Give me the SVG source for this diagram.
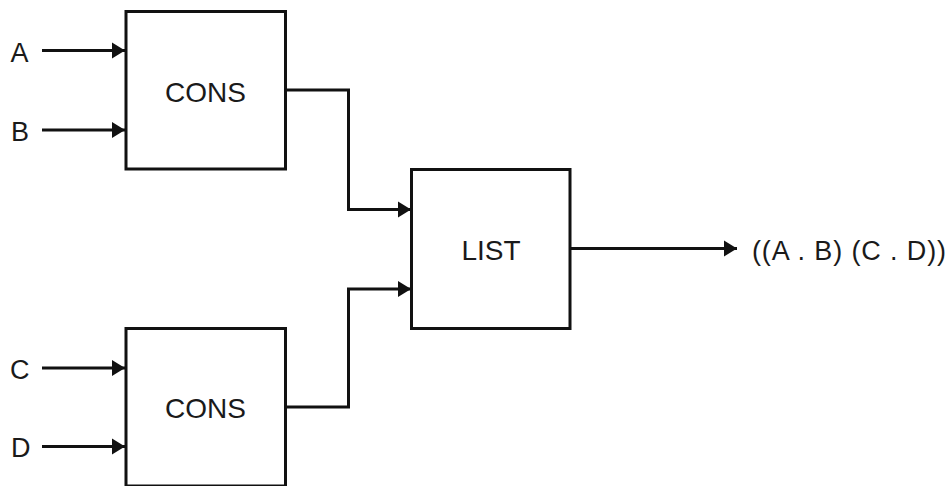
<svg xmlns="http://www.w3.org/2000/svg" width="952" height="486" viewBox="0 0 952 486">
<defs>
<style>
.box{fill:#fff;stroke:#111;stroke-width:3}
.wire{fill:none;stroke:#111;stroke-width:3}
.t{font-family:"Liberation Sans",Arial,sans-serif;fill:#1a1a1a}
.big{font-size:28px}
.lab{font-size:27px}
</style>
<marker id="ah" markerUnits="userSpaceOnUse" markerWidth="14" markerHeight="18" refX="13" refY="9" orient="auto">
<path d="M0,1 L13,9 L0,17 Z" fill="#111"/>
</marker>
</defs>
<rect width="952" height="486" fill="#fff"/>
<g id="connectors">
<line class="wire" x1="42" y1="50.5" x2="125" y2="50.5" marker-end="url(#ah)"/>
<line class="wire" x1="42" y1="130" x2="125" y2="130" marker-end="url(#ah)"/>
<line class="wire" x1="42" y1="368" x2="125" y2="368" marker-end="url(#ah)"/>
<line class="wire" x1="42" y1="446.5" x2="125" y2="446.5" marker-end="url(#ah)"/>
<polyline class="wire" points="286,90 348.5,90 348.5,209.5 411,209.5" marker-end="url(#ah)"/>
<polyline class="wire" points="286,407 348.5,407 348.5,289 411,289" marker-end="url(#ah)"/>
<line class="wire" x1="571" y1="248.5" x2="737" y2="248.5" marker-end="url(#ah)"/>
</g>
<g id="in-A"><text class="t lab" x="10.5" y="61.5">A</text></g>
<g id="in-B"><text class="t lab" x="11" y="140.5">B</text></g>
<g id="in-C"><text class="t lab" x="10" y="378.5">C</text></g>
<g id="in-D"><text class="t lab" x="11" y="457">D</text></g>
<g id="cons1">
<rect class="box" x="126" y="11.5" width="159.5" height="157.5"/>
<text class="t big" x="205.5" y="101.5" text-anchor="middle">CONS</text>
</g>
<g id="cons2">
<rect class="box" x="126" y="328.5" width="159.5" height="157.5"/>
<text class="t big" x="205.5" y="418" text-anchor="middle">CONS</text>
</g>
<g id="list">
<rect class="box" x="411.5" y="169.5" width="158.5" height="159"/>
<text class="t big" x="491" y="260" text-anchor="middle">LIST</text>
</g>
<g id="out"><text class="t lab" x="752" y="260" textLength="194" lengthAdjust="spacing">((A . B) (C . D))</text></g>
</svg>
